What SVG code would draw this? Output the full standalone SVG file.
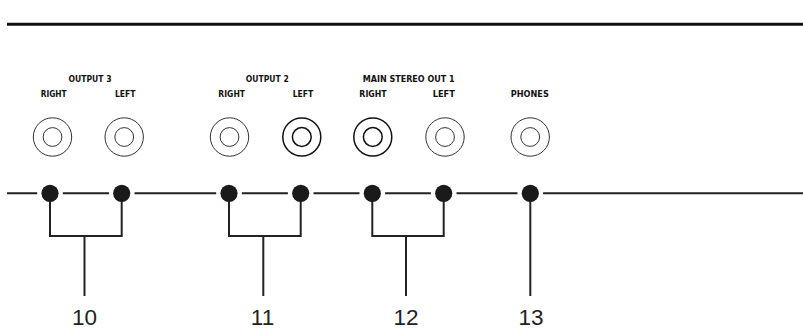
<svg xmlns="http://www.w3.org/2000/svg" width="803" height="328" viewBox="0 0 803 328">
<style>
.lbl{font-family:"Liberation Sans Narrow","DejaVu Sans Condensed","Liberation Sans",sans-serif;font-weight:bold;font-size:9.5px;fill:#111;text-anchor:middle}
.num{font-family:"Liberation Sans",Arial,sans-serif;font-size:22.5px;fill:#222;text-anchor:middle}
.jo{fill:none;stroke:#333;stroke-width:1}
.jt{fill:none;stroke:#111;stroke-width:1.5}
.ln{fill:none;stroke:#222;stroke-width:2}
.dot{fill:#1a1a1a}
</style>
<rect width="803" height="328" fill="#fff"/>
<line x1="7" y1="24.3" x2="803" y2="24.3" stroke="#111" stroke-width="3"/>
<g id="headers">
<text class="lbl" x="90" y="81.7" textLength="43" lengthAdjust="spacingAndGlyphs">OUTPUT 3</text>
<text class="lbl" x="267.3" y="81.7" textLength="43" lengthAdjust="spacingAndGlyphs">OUTPUT 2</text>
<text class="lbl" x="408.7" y="81.7" textLength="92" lengthAdjust="spacingAndGlyphs">MAIN STEREO OUT 1</text>
</g>
<g id="jack-out3-right"><text class="lbl" x="53.7" y="97.3" textLength="26" lengthAdjust="spacingAndGlyphs">RIGHT</text><circle class="jo" cx="52.5" cy="137" r="19.2"/><circle class="jo" cx="52.5" cy="137" r="9.4"/></g>
<g id="jack-out3-left"><text class="lbl" x="125.3" y="97.3" textLength="20.7" lengthAdjust="spacingAndGlyphs">LEFT</text><circle class="jo" cx="124.2" cy="137" r="19.2"/><circle class="jo" cx="124.2" cy="137" r="9.4"/></g>
<g id="jack-out2-right"><text class="lbl" x="231.7" y="97.3" textLength="26.7" lengthAdjust="spacingAndGlyphs">RIGHT</text><circle class="jo" cx="229.5" cy="137" r="19.2"/><circle class="jo" cx="229.5" cy="137" r="9.4"/></g>
<g id="jack-out2-left"><text class="lbl" x="303" y="97.3" textLength="20.7" lengthAdjust="spacingAndGlyphs">LEFT</text><circle class="jt" cx="301.8" cy="137" r="19"/><circle class="jt" cx="301.8" cy="137" r="9.4"/></g>
<g id="jack-main-right"><text class="lbl" x="373" y="97.3" textLength="27.3" lengthAdjust="spacingAndGlyphs">RIGHT</text><circle class="jt" cx="372.8" cy="137" r="19"/><circle class="jt" cx="372.8" cy="137" r="9.4"/></g>
<g id="jack-main-left"><text class="lbl" x="443.8" y="97.3" textLength="22.3" lengthAdjust="spacingAndGlyphs">LEFT</text><circle class="jo" cx="445" cy="137" r="19.2"/><circle class="jo" cx="445" cy="137" r="9.4"/></g>
<g id="jack-phones"><text class="lbl" x="529.8" y="97.3" textLength="38" lengthAdjust="spacingAndGlyphs">PHONES</text><circle class="jo" cx="530.2" cy="137" r="19.2"/><circle class="jo" cx="530.2" cy="137" r="9.4"/></g>
<g id="connectors">
<path class="ln" d="M7 193.3H37.2M62.8 193.3H109M134.5 193.3H216.2M241.8 193.3H287.9M313.5 193.3H359.5M385.1 193.3H430.9M456.5 193.3H517.5M543.1 193.3H803"/>
<path class="ln" d="M50 193.3V236H121.7V193.3M84.5 236V296"/>
<path class="ln" d="M229 193.3V236H300.7V193.3M263.3 236V296"/>
<path class="ln" d="M372.3 193.3V236H443.7V193.3M406 236V296"/>
<path class="ln" d="M530.3 193.3V296"/>
</g>
<g id="dots">
<circle class="dot" cx="50" cy="193.3" r="8.6"/>
<circle class="dot" cx="121.7" cy="193.3" r="8.6"/>
<circle class="dot" cx="229" cy="193.3" r="8.6"/>
<circle class="dot" cx="300.7" cy="193.3" r="8.6"/>
<circle class="dot" cx="372.3" cy="193.3" r="8.6"/>
<circle class="dot" cx="443.7" cy="193.3" r="8.6"/>
<circle class="dot" cx="530.3" cy="193.3" r="8.6"/>
</g>
<g id="callouts">
<text class="num" x="84.5" y="324.5">10</text>
<text class="num" x="262.5" y="324.5">11</text>
<text class="num" x="406" y="324.5">12</text>
<text class="num" x="531" y="324.5">13</text>
</g>
</svg>
